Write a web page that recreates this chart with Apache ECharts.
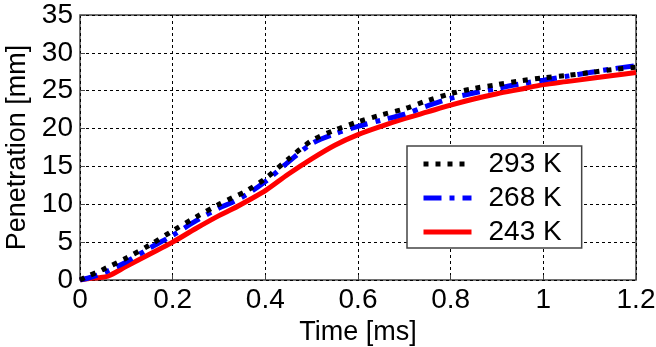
<!DOCTYPE html>
<html>
<head>
    <meta charset="utf-8"/>
    <title></title>
    <script src="https://cdn.jsdelivr.net/npm/echarts@6/dist/echarts.min.js"></script>
    <style>
        html, body { margin: 0; padding: 0; background: #fff; }
    </style>
</head>
<body>
<div id="main" style="width:656px;height:347px;"></div>
<script type="text/javascript">
    /* 数据 */
    var time = [0, 0.02, 0.04, 0.06, 0.1, 0.15, 0.2, 0.25, 0.3, 0.33, 0.36, 0.4, 0.45, 0.5, 0.55, 0.6,
        0.65, 0.7, 0.75, 0.8, 0.85, 0.9, 0.95, 1.0, 1.05, 1.1, 1.15, 1.2];
    var k293 = [0, 0.6, 1.1, 1.7, 2.9, 4.6, 6.5, 8.3, 10.0, 10.9, 11.8, 13.4, 16.0, 18.4, 19.8, 20.9,
        21.8, 22.6, 23.7, 24.6, 25.3, 25.8, 26.3, 26.7, 27.0, 27.4, 27.8, 28.1];
    var k268 = [0, 0.3, 0.7, 1.2, 2.4, 4.2, 5.9, 7.8, 9.5, 10.3, 11.3, 13.0, 15.6, 18.0, 19.3, 20.3,
        21.1, 21.9, 23.0, 24.0, 24.7, 25.3, 25.9, 26.4, 26.9, 27.4, 27.9, 28.3];
    var k243 = [0, 0.2, 0.3, 0.5, 1.8, 3.4, 5.0, 6.8, 8.5, 9.4, 10.4, 11.8, 14.0, 16.0, 17.8, 19.2,
        20.3, 21.3, 22.2, 23.1, 23.9, 24.6, 25.2, 25.8, 26.2, 26.6, 27.0, 27.4];
    var names = ['293 K', '268 K', '243 K'];

    function pairs(ys) {
        var out = [];
        for (var i = 0; i < time.length; i++) {
            out.push([time[i], ys[i]]);
        }
        return out;
    }

    var chart = echarts.init(document.getElementById('main'));
    var font = 'Liberation Sans, Arial, sans-serif';
    var gridLine = {show: true, lineStyle: {color: '#000', type: [3, 3], width: 1}};

    var option = {
        animation: false,
        grid: {left: 80, right: 20, top: 15, bottom: 67, show: true, borderColor: '#444', borderWidth: 1.5,
            outerBoundsMode: 'none', containLabel: false},
        legend: {
            orient: 'vertical',
            left: 407,
            top: 146,
            padding: [4, 20, 2, 14],
            itemGap: 6,
            itemWidth: 48,
            itemHeight: 14,
            backgroundColor: '#fff',
            borderColor: '#444',
            borderWidth: 1.5,
            lineStyle: {width: 5},
            itemStyle: {opacity: 0},
            textStyle: {fontFamily: font, fontSize: 28, color: '#000', padding: [0, 0, 0, 12]},
            data: names
        },
        xAxis: {
            type: 'value', min: 0, max: 1.2, interval: 0.2,
            name: 'Time [ms]', nameLocation: 'middle', nameGap: 32,
            nameTextStyle: {fontFamily: font, fontSize: 27, color: '#000'},
            axisLine: {show: false},
            axisTick: {show: true, inside: true, length: 5, lineStyle: {color: '#444'}},
            axisLabel: {fontFamily: font, fontSize: 28, color: '#000', margin: 6},
            splitLine: gridLine
        },
        yAxis: {
            type: 'value', min: 0, max: 35, interval: 5,
            name: 'Penetration [mm]', nameLocation: 'middle', nameGap: 45,
            nameTextStyle: {fontFamily: font, fontSize: 27, color: '#000'},
            axisLine: {show: false},
            axisTick: {show: true, inside: true, length: 5, lineStyle: {color: '#444'}},
            axisLabel: {fontFamily: font, fontSize: 28, color: '#000', margin: 7},
            splitLine: gridLine
        },
        series: [
            {name: names[2], type: 'line', data: pairs(k243), symbol: 'none', smooth: 0.3,
                lineStyle: {color: '#ff0000', width: 5}, itemStyle: {color: '#ff0000'}, z: 2},
            {name: names[1], type: 'line', data: pairs(k268), symbol: 'none', smooth: 0.3,
                lineStyle: {color: '#0000ff', width: 5, type: [18, 8, 5, 8]}, itemStyle: {color: '#0000ff'}, z: 3},
            {name: names[0], type: 'line', data: pairs(k293), symbol: 'none', smooth: 0.3,
                lineStyle: {color: '#000', width: 5, type: [5, 7]}, itemStyle: {color: '#000'}, z: 4}
        ]
    };
    chart.setOption(option);
    window.onresize = chart.resize;
</script>
</body>
</html>
